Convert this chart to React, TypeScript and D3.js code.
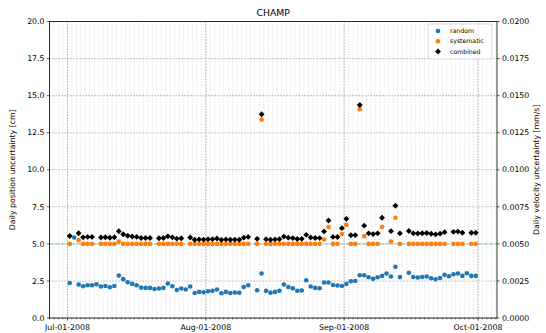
import React from "react";
import * as d3 from "d3";

// one value per day, Jul-01-2008 .. Sep-30-2008 (null = no solution that day)
const firstDay = new Date(2008, 6, 1, 12);

const randomErr: (number | null)[] = [
  2.36, 5.43, 2.26, 2.14, 2.21, 2.21, 2.28, 2.12, 2.16, 2.07,
  2.16, 2.86, 2.62, 2.41, 2.3, 2.21, 2.05, 2.03, 2.03, 1.96,
  1.99, 2.03, 2.32, 2.14, 1.89, 1.99, 1.92, 2.12, 1.69, 1.76,
  1.74, 1.8, 1.83, 1.92, 1.67, 1.76, 1.69, 1.72, 1.7, 2.09,
  2.21, null, 1.87, 3.0, 1.83, 1.71, 1.76, 1.83, 2.26, 2.09,
  2.0, 1.84, 1.86, 2.55, 2.12, 2.03, 2.01, 2.39, 2.39, 2.23,
  2.19, 2.16, 2.3, 2.48, 2.5, 2.88, 2.88, 2.75, 2.64, 2.75,
  2.84, 3.0, 2.8, 3.45, 2.76, null, 3.05, 2.77, 2.73, 2.77,
  2.8, 2.68, 2.61, 2.7, 2.91, 2.82, 2.95, 3.0, 2.84, 3.02,
  2.84, 2.84,
];

const systematicErr: (number | null)[] = [
  5.0, null, 5.25, 5.0, 5.0, 5.0, null, 5.0, 5.0, 5.0,
  5.0, 5.15, 5.0, 5.0, 5.0, 5.0, 5.0, 5.0, 5.0, null,
  5.0, 5.0, 5.0, 5.0, 5.0, 5.0, null, 5.0, 5.0, 5.0,
  5.0, 5.0, 5.0, 5.0, 5.0, 5.0, 5.0, 5.0, 5.0, 5.0,
  5.0, null, 5.0, 13.38, 5.0, 5.0, 5.0, 5.0, 5.0, 5.0,
  5.0, 5.0, 5.0, 5.0, 5.0, 5.0, 5.0, 5.3, 6.13, 5.0,
  5.0, 5.66, 6.28, 5.0, 5.0, 14.08, 5.52, 5.0, 5.0, 5.0,
  6.13, null, 5.16, 6.76, 5.0, null, 5.0, 5.0, 5.0, 5.0,
  5.0, 5.0, 5.0, 5.0, 5.0, null, 5.0, 5.0, 5.0, null,
  5.0, 5.0,
];

const combinedErr: (number | null)[] = [
  5.53, null, 5.72, 5.44, 5.47, 5.47, null, 5.43, 5.45, 5.41,
  5.45, 5.85, 5.65, 5.55, 5.5, 5.47, 5.4, 5.4, 5.4, null,
  5.38, 5.4, 5.51, 5.44, 5.35, 5.38, null, 5.43, 5.28, 5.3,
  5.29, 5.31, 5.32, 5.36, 5.27, 5.3, 5.28, 5.29, 5.28, 5.42,
  5.47, null, 5.34, 13.74, 5.32, 5.28, 5.3, 5.32, 5.49, 5.42,
  5.39, 5.33, 5.34, 5.61, 5.43, 5.4, 5.39, 5.84, 6.58, 5.47,
  5.46, 6.06, 6.69, 5.58, 5.59, 14.37, 6.23, 5.71, 5.66, 5.71,
  6.76, null, 5.86, 7.57, 5.71, null, 5.87, 5.72, 5.7, 5.72,
  5.73, 5.68, 5.64, 5.69, 5.79, null, 5.81, 5.83, 5.75, null,
  5.75, 5.75,
];

const monthTicks = [
  new Date(2008, 6, 1),
  new Date(2008, 7, 1),
  new Date(2008, 8, 1),
  new Date(2008, 9, 1),
];
const monthLabels = ["Jul-01-2008", "Aug-01-2008", "Sep-01-2008", "Oct-01-2008"];
const posTicks = [0, 2.5, 5, 7.5, 10, 12.5, 15, 17.5, 20];
const velTicks = [0, 0.0025, 0.005, 0.0075, 0.01, 0.0125, 0.015, 0.0175, 0.02];
const refLevel = 5;

const W = 546;
const H = 333;
const left = 49.5;
const right = 497;
const top = 21.5;
const bottom = 318;

const font = "DejaVu Sans, sans-serif";
const fs = 7.8;

const App = () => {
  const x = d3
    .scaleTime()
    .domain([new Date(2008, 5, 26, 23, 17), new Date(2008, 9, 5, 6, 14)])
    .range([left, right]);
  const y = d3.scaleLinear().domain([0, 20]).range([bottom, top]);
  const y2 = d3.scaleLinear().domain([0, 0.02]).range([bottom, top]);

  const dayOf = (i: number) => d3.timeDay.offset(firstDay, i);
  const minorDays = d3.timeDay.range(x.domain()[0], x.domain()[1]);

  const pts = (vals: (number | null)[]) =>
    vals
      .map((v, i) => ({ v, i }))
      .filter((d) => d.v !== null) as { v: number; i: number }[];

  const diamond = d3.symbol().type(d3.symbolDiamond2).size(22)();

  return (
    <svg
      width={W}
      height={H}
      style={{ position: "absolute", left: 0, top: 0, background: "#fff" }}
      fontFamily={font}
    >
      {/* minor daily grid */}
      <g>
        {minorDays.map((d, i) => (
          <line
            key={i}
            x1={x(d)}
            x2={x(d)}
            y1={top}
            y2={bottom}
            stroke="#d0d0d0"
            strokeWidth={0.7}
            strokeDasharray="1,1.5"
          />
        ))}
      </g>
      {/* major grid */}
      <g>
        {monthTicks.map((d, i) => (
          <line
            key={i}
            x1={x(d)}
            x2={x(d)}
            y1={top}
            y2={bottom}
            stroke="#a8a8a8"
            strokeWidth={1.1}
            strokeDasharray="1.2,1.8"
          />
        ))}
        {posTicks.map((t, i) => (
          <line
            key={i}
            x1={left}
            x2={right}
            y1={y(t)}
            y2={y(t)}
            stroke="#a8a8a8"
            strokeWidth={1.1}
            strokeDasharray="1.2,1.8"
          />
        ))}
      </g>
      <line
        x1={left}
        x2={right}
        y1={y(refLevel)}
        y2={y(refLevel)}
        stroke="#00bfbf"
        strokeOpacity={0.55}
        strokeWidth={1}
        strokeDasharray="3.5,2"
      />

      {/* data */}
      <g>
        {pts(randomErr).map((d) => (
          <circle key={d.i} cx={x(dayOf(d.i))} cy={y(d.v)} r={2.3} fill="#1f77b4" />
        ))}
        {pts(systematicErr).map((d) => (
          <circle key={d.i} cx={x(dayOf(d.i))} cy={y(d.v)} r={2.3} fill="#ff7f0e" />
        ))}
        {pts(combinedErr).map((d) => (
          <path
            key={d.i}
            d={diamond!}
            transform={`translate(${x(dayOf(d.i))},${y(d.v)})`}
            fill="#000"
          />
        ))}
      </g>

      {/* frame */}
      <rect
        x={left}
        y={top}
        width={right - left}
        height={bottom - top}
        fill="none"
        stroke="#000"
        strokeWidth={0.8}
      />

      {/* x axis */}
      <g>
        {minorDays.map((d, i) => (
          <line key={i} x1={x(d)} x2={x(d)} y1={bottom} y2={bottom + 1.5} stroke="#000" strokeWidth={0.5} />
        ))}
        {monthTicks.map((d, i) => (
          <g key={i}>
            <line x1={x(d)} x2={x(d)} y1={bottom} y2={bottom + 2.7} stroke="#000" strokeWidth={0.6} />
            <text x={x(d)} y={bottom + 11.5} fontSize={fs} textAnchor="middle" fill="#000">
              {monthLabels[i]}
            </text>
          </g>
        ))}
      </g>

      {/* left axis */}
      <g>
        {posTicks.map((t, i) => (
          <g key={i}>
            <line x1={left - 2.7} x2={left} y1={y(t)} y2={y(t)} stroke="#000" strokeWidth={0.6} />
            <text x={left - 5} y={y(t)} dy="0.35em" fontSize={fs} textAnchor="end" fill="#000">
              {d3.format(".1f")(t)}
            </text>
          </g>
        ))}
        <text
          transform={`translate(15,${(top + bottom) / 2}) rotate(-90)`}
          fontSize={fs}
          textAnchor="middle"
          fill="#000"
        >
          Daily position uncertainty [cm]
        </text>
      </g>

      {/* right axis */}
      <g>
        {velTicks.map((t, i) => (
          <g key={i}>
            <line x1={right} x2={right + 2.7} y1={y2(t)} y2={y2(t)} stroke="#000" strokeWidth={0.6} />
            <text x={right + 5} y={y2(t)} dy="0.35em" fontSize={fs} textAnchor="start" fill="#000">
              {d3.format(".4f")(t)}
            </text>
          </g>
        ))}
        <text
          transform={`translate(539,${(top + bottom) / 2}) rotate(-90)`}
          fontSize={fs}
          textAnchor="middle"
          fill="#000"
        >
          Daily velocity uncertainty [mm/s]
        </text>
      </g>

      <text x={(left + right) / 2} y={top - 6} fontSize={9.3} textAnchor="middle" fill="#000">
        CHAMP
      </text>

      {/* legend */}
      <g transform="translate(428,24)">
        <rect width={64} height={35} rx={2} fill="#fff" fillOpacity={0.8} stroke="#ccc" strokeWidth={0.7} />
        <circle cx={10} cy={7} r={2.3} fill="#1f77b4" />
        <text x={22} y={7} dy="0.35em" fontSize={6.2} fill="#000">random</text>
        <circle cx={10} cy={17.3} r={2.3} fill="#ff7f0e" />
        <text x={22} y={17.3} dy="0.35em" fontSize={6.2} fill="#000">systematic</text>
        <path d={diamond!} transform="translate(10,27.5)" fill="#000" />
        <text x={22} y={27.5} dy="0.35em" fontSize={6.2} fill="#000">combined</text>
      </g>
    </svg>
  );
};

export default App;
